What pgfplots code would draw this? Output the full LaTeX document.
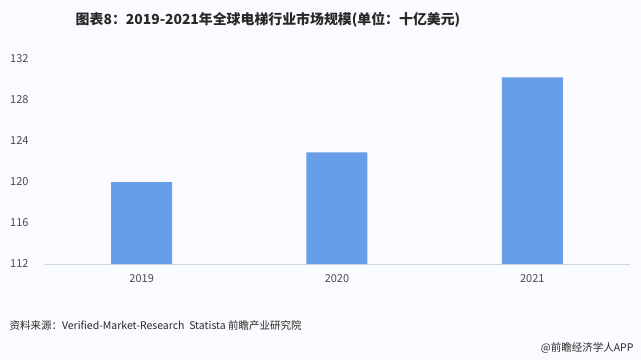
\documentclass[border=0pt]{standalone}
\usepackage{pgfplots}
\pgfplotsset{compat=1.18}
\usepackage{fontspec}
\setmainfont{Noto Sans CJK SC}
\definecolor{barblue}{RGB}{104,157,232}
\definecolor{bgc}{RGB}{249,251,254}
\definecolor{axisc}{RGB}{210,216,226}
\definecolor{tickc}{RGB}{75,75,75}
\definecolor{titlec}{RGB}{40,40,40}
\begin{document}
\begin{tikzpicture}[x=1pt,y=1pt]
\useasboundingbox (-44,-96) rectangle (597,264);
\fill[bgc] (-44,-96) rectangle (597,264);
\begin{axis}[
  at={(0,0)}, anchor=south west,
  scale only axis,
  width=586pt, height=205pt,
  xmin=-0.5, xmax=2.5,
  ymin=112, ymax=132,
  ytick={112,116,120,124,128,132},
  xtick={0,1,2},
  xticklabels={2019,2020,2021},
  axis x line*=bottom,
  axis y line*=left,
  x axis line style={axisc, line width=0.8pt, -},
  y axis line style={draw=none, -},
  major tick length=0pt,
  tick style={draw=none},
  ticklabel style={font=\fontsize{11}{12}\selectfont, text=tickc},
  /pgf/number format/assume math mode=true,
  xticklabel style={yshift=-7pt},
  yticklabel style={xshift=-12pt},
  clip=false,
]
\addplot[ybar, bar width=61pt, fill=barblue, draw=none] coordinates {(0,120.0) (1,122.9) (2,130.2)};
\end{axis}
\node[font=\fontsize{13.9}{16}\selectfont\bfseries, text=titlec] at (224,244) {图表8：2019-2021年全球电梯行业市场规模(单位：十亿美元)};
\node[anchor=west, font=\fontsize{10.5}{12}\selectfont, text=titlec] at (-38,-62) {资料来源：Verified-Market-Research\ \ Statista 前瞻产业研究院};
\node[anchor=east, font=\fontsize{10.5}{12}\selectfont, text=titlec] at (593,-84) {@前瞻经济学人APP};
\end{tikzpicture}
\end{document}
